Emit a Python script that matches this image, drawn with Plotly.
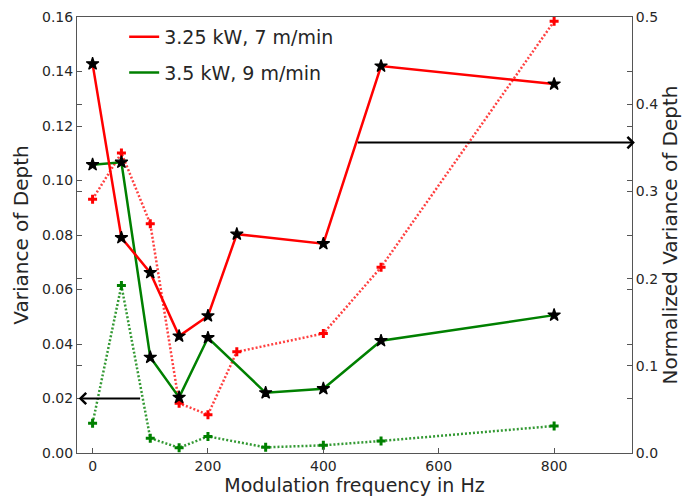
import plotly.graph_objects as go

# ---- data ----
freq_a = [0, 50, 100, 150, 200, 250, 400, 500, 800]
var_a = [0.1428, 0.0790, 0.0662, 0.0429, 0.0503, 0.0803, 0.0768, 0.1420, 0.1354]
norm_a = [0.291, 0.344, 0.263, 0.057, 0.044, 0.116, 0.137, 0.213, 0.495]

freq_b = [0, 50, 100, 150, 200, 300, 400, 500, 800]
var_b = [0.1058, 0.1067, 0.0351, 0.0204, 0.0423, 0.0221, 0.0236, 0.0412, 0.0506]
norm_b = [0.034, 0.192, 0.017, 0.006, 0.019, 0.0065, 0.0088, 0.0138, 0.031]

label_a = "3.25 kW, 7 m/min"
label_b = "3.5 kW, 9 m/min"

x_ticks = [0, 200, 400, 600, 800]
left_ticks = [0.00, 0.02, 0.04, 0.06, 0.08, 0.10, 0.12, 0.14, 0.16]
right_ticks = [0.0, 0.1, 0.2, 0.3, 0.4, 0.5]

RED = "#ff0000"
GREEN = "#008000"
FONT = "DejaVu Sans"
TXT = "#262626"
SPINE = "#555555"

fig = go.Figure()

# normalized (dotted) series on the right axis -> 'y'
fig.add_trace(go.Scatter(x=freq_a, y=norm_a, mode="lines+markers", yaxis="y",
                         line=dict(color="rgba(255,0,0,0.75)", width=2.5, dash="2px,2px"),
                         marker=dict(symbol="cross", size=7.5, color=RED),
                         showlegend=False))
fig.add_trace(go.Scatter(x=freq_b, y=norm_b, mode="lines+markers", yaxis="y",
                         line=dict(color="rgba(0,128,0,0.8)", width=2.5, dash="2px,2px"),
                         marker=dict(symbol="cross", size=7.5, color=GREEN),
                         showlegend=False))

# variance (solid) series on the left axis -> 'y2'
fig.add_trace(go.Scatter(x=freq_b, y=var_b, mode="lines", yaxis="y2",
                         line=dict(color=GREEN, width=2.5),
                         name=label_b, legendgroup="b", legendrank=2))
fig.add_trace(go.Scatter(x=freq_a, y=var_a, mode="lines", yaxis="y2",
                         line=dict(color=RED, width=2.5),
                         name=label_a, legendgroup="a", legendrank=1))
fig.add_trace(go.Scatter(x=freq_b, y=var_b, mode="markers", yaxis="y2",
                         marker=dict(symbol="star", size=9.5, color="black",
                                     line=dict(color="black", width=1.2)),
                         showlegend=False))
fig.add_trace(go.Scatter(x=freq_a, y=var_a, mode="markers", yaxis="y2",
                         marker=dict(symbol="star", size=9.5, color="black",
                                     line=dict(color="black", width=1.2)),
                         showlegend=False))

# arrows
fig.add_annotation(x=-24, y=0.02, ax=85, ay=0.02, xref="x", yref="y2",
                   axref="x", ayref="y2", showarrow=True, text="",
                   arrowhead=4, arrowsize=1.1, arrowwidth=2, arrowcolor="black")
fig.add_annotation(x=940, y=0.356, ax=457, ay=0.356, xref="x", yref="y",
                   axref="x", ayref="y", showarrow=True, text="",
                   arrowhead=4, arrowsize=1.1, arrowwidth=2, arrowcolor="black")

fig.update_layout(
    width=682, height=498,
    margin=dict(l=77, r=50, t=17, b=45, autoexpand=False),
    paper_bgcolor="white", plot_bgcolor="white",
    font=dict(family=FONT, color=TXT, size=14),
    showlegend=True,
    legend=dict(x=0.085, y=0.998, xanchor="left", yanchor="top",
                font=dict(size=19, color=TXT), bgcolor="rgba(0,0,0,0)",
                itemwidth=30, traceorder="grouped", tracegroupgap=8),
    xaxis=dict(range=[-27, 935], tickvals=x_ticks, ticktext=[str(v) for v in x_ticks],
               ticks="inside", ticklen=5, tickcolor=SPINE, showgrid=False, zeroline=False,
               showline=True, linecolor=SPINE, linewidth=1, mirror=True, automargin=False,
               tickfont=dict(size=14, color=TXT),
               title=dict(text="Modulation frequency in Hz", font=dict(size=19, color=TXT),
                          standoff=2)),
    yaxis=dict(range=[0, 0.5], side="right", tickvals=right_ticks,
               ticktext=[f"{v:.1f}" for v in right_ticks],
               ticks="inside", ticklen=5, tickcolor=SPINE, showgrid=False, zeroline=False,
               showline=True, linecolor=SPINE, linewidth=1, mirror="ticks", automargin=False,
               tickfont=dict(size=14, color=TXT),
               title=dict(text="Normalized Variance of Depth", font=dict(size=20, color=TXT),
                          standoff=0)),
    yaxis2=dict(range=[0, 0.16], side="left", overlaying="y", tickvals=left_ticks,
                ticktext=[f"{v:.2f}" for v in left_ticks],
                ticks="inside", ticklen=5, tickcolor=SPINE, showgrid=False, zeroline=False,
                showline=True, linecolor=SPINE, linewidth=1, mirror="ticks", automargin=False,
                tickfont=dict(size=14, color=TXT),
                title=dict(text="Variance of Depth", font=dict(size=20, color=TXT),
                           standoff=8)),
)

fig.write_html("out.html", config={"displayModeBar": False},
               post_script="document.body.style.margin='0';")
